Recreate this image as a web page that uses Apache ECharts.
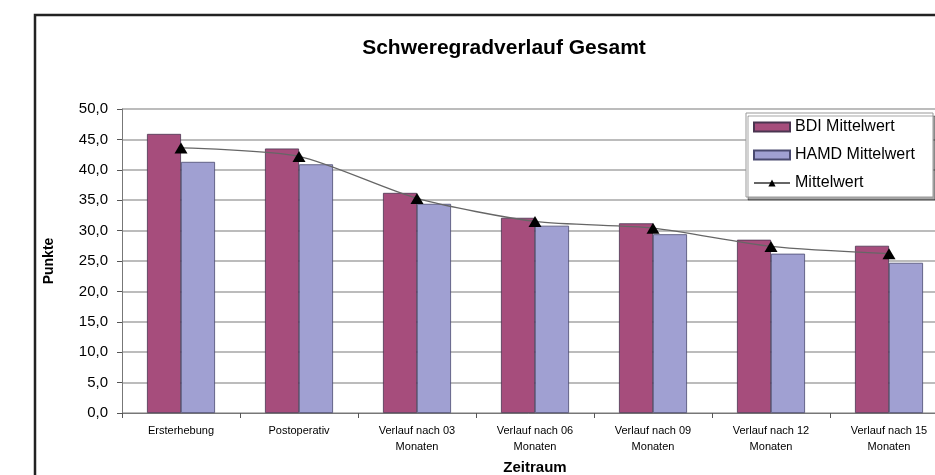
<!DOCTYPE html>
<html>
<head>
<meta charset="utf-8">
<script src="https://cdn.jsdelivr.net/npm/echarts@6/dist/echarts.min.js"></script>
<style>
  html, body { margin: 0; padding: 0; background: #fff; }
  #chart { width: 935px; height: 475px; }
</style>
</head>
<body>
<div id="chart"></div>
<script>
// Zeitpunkte
const categories = [
  'Ersterhebung',
  'Postoperativ',
  'Verlauf nach 03\nMonaten',
  'Verlauf nach 06\nMonaten',
  'Verlauf nach 09\nMonaten',
  'Verlauf nach 12\nMonaten',
  'Verlauf nach 15\nMonaten'
]
const bdiValues = [45.9, 43.5, 36.2, 32.1, 31.2, 28.5, 27.5]
const hamdValues = [41.3, 40.9, 34.4, 30.8, 29.4, 26.2, 24.7]
const meanValues = [43.6, 42.2, 35.3, 31.5, 30.4, 27.4, 26.2]
const yTicks = { min: 0, max: 50, interval: 5 }

const FONT = '"Liberation Sans", Arial, sans-serif'

const chart = echarts.init(document.getElementById('chart'))
chart.setOption({
  backgroundColor: '#fff',
  animation: false,
  textStyle: { fontFamily: FONT },
  title: {
    text: 'Schweregradverlauf Gesamt',
    left: 499,
    top: 33,
    textAlign: 'center',
    textStyle: { fontSize: 21, fontWeight: 'bold', color: '#000', fontFamily: FONT }
  },
  // Rahmen um das Diagramm
  graphic: [
    {
      type: 'rect',
      shape: { x: 35, y: 15, width: 960, height: 500 },
      style: { fill: null, stroke: '#222', lineWidth: 2.5 },
      silent: true,
      z: 10
    }
  ],
  legend: {
    orient: 'vertical',
    left: 746,
    top: 113,
    padding: [6, 18, 6, 7],
    itemGap: 12,
    itemWidth: 36,
    itemHeight: 9,
    backgroundColor: '#fff',
    borderColor: '#999',
    borderWidth: 1,
    shadowColor: 'rgba(0,0,0,0.35)',
    shadowOffsetX: 2,
    shadowOffsetY: 3,
    textStyle: { fontSize: 16, color: '#000', fontFamily: FONT },
    data: [
      { name: 'BDI Mittelwert', icon: 'rect' },
      { name: 'HAMD Mittelwert', icon: 'rect' },
      { name: 'Mittelwert' }
    ]
  },
  grid: {
    left: 122,
    right: -13,
    top: 109,
    bottom: 62,
    outerBoundsMode: 'none',
    containLabel: false
  },
  xAxis: {
    type: 'category',
    data: categories,
    name: 'Zeitraum',
    nameLocation: 'middle',
    nameGap: 47,
    nameTextStyle: { fontSize: 15, fontWeight: 'bold', color: '#000' },
    axisLine: { lineStyle: { color: '#777', width: 1 } },
    axisTick: { show: true, length: 5, lineStyle: { color: '#555' } },
    axisLabel: { fontSize: 11, color: '#000', lineHeight: 16, margin: 10, interval: 0 }
  },
  yAxis: {
    type: 'value',
    min: yTicks.min,
    max: yTicks.max,
    interval: yTicks.interval,
    name: 'Punkte',
    nameLocation: 'middle',
    nameGap: 66,
    nameRotate: 90,
    nameTextStyle: { fontSize: 14, fontWeight: 'bold', color: '#000' },
    axisLine: { show: true, lineStyle: { color: '#777' } },
    axisTick: { show: true, length: 5, lineStyle: { color: '#555' } },
    axisLabel: {
      fontSize: 15,
      color: '#000',
      margin: 14,
      formatter: v => v.toFixed(1).replace('.', ',')
    },
    splitLine: { lineStyle: { color: '#a6a6a6', width: 1.5 } }
  },
  series: [
    {
      name: 'BDI Mittelwert',
      type: 'bar',
      data: bdiValues,
      barWidth: 34,
      barGap: '0%',
      itemStyle: { color: '#a64d7c', borderColor: '#4a3550', borderWidth: 0.8 }
    },
    {
      name: 'HAMD Mittelwert',
      type: 'bar',
      data: hamdValues,
      barWidth: 34,
      itemStyle: { color: '#a0a0d2', borderColor: '#4a4a70', borderWidth: 0.8 }
    },
    {
      name: 'Mittelwert',
      type: 'line',
      data: meanValues,
      smooth: 0.25,
      symbol: 'triangle',
      symbolSize: [13, 11],
      itemStyle: { color: '#000' },
      lineStyle: { color: '#666', width: 1.3 },
      z: 5
    }
  ]
})
</script>
</body>
</html>
